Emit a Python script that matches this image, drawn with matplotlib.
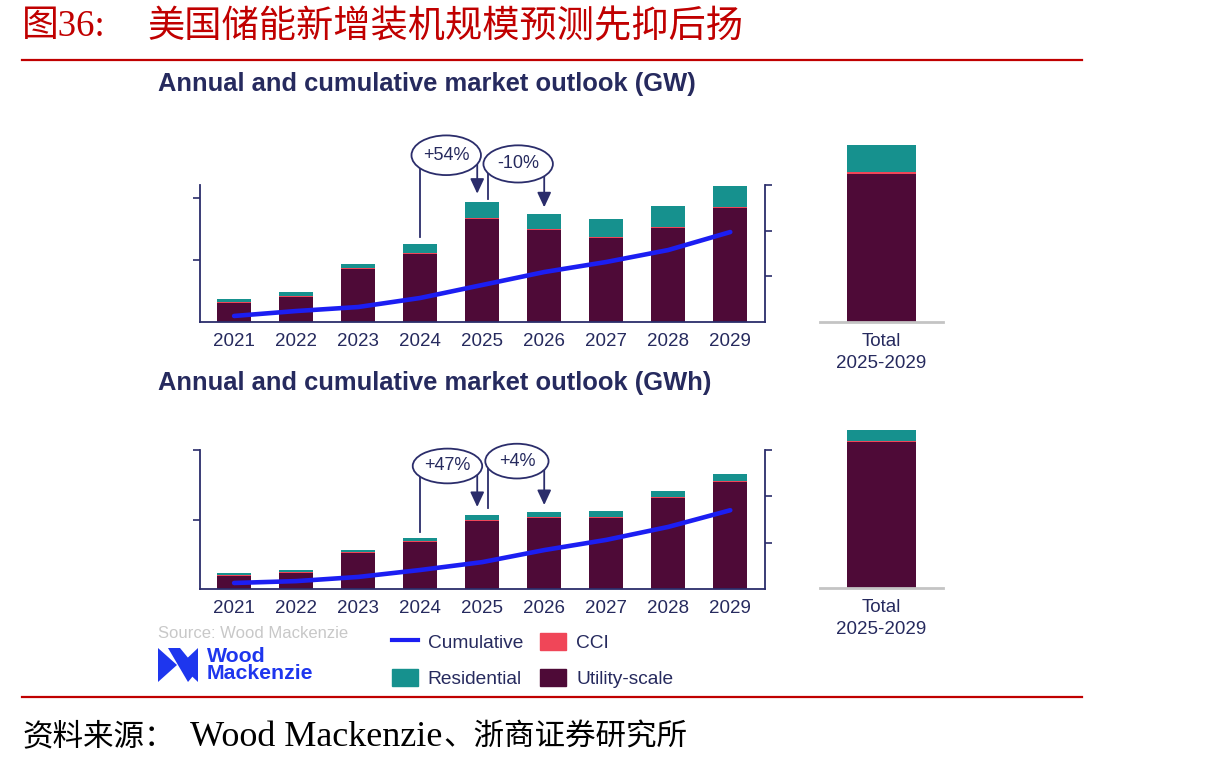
import numpy as np
import matplotlib
matplotlib.use("Agg")
import matplotlib.pyplot as plt
from matplotlib.patches import Ellipse, Patch, Polygon
from matplotlib.lines import Line2D

plt.rcParams['font.family'] = ['Liberation Sans', 'Noto Sans CJK SC']

W, H = 1210, 766

years = ['2021', '2022', '2023', '2024', '2025', '2026', '2027', '2028', '2029']

# GW panel
gw_utility = np.array([3.1, 4.0, 8.5, 11.0, 16.6, 14.8, 13.5, 15.2, 18.4])
gw_cci = np.array([0.2, 0.2, 0.2, 0.2, 0.2, 0.2, 0.2, 0.2, 0.2])
gw_residential = np.array([0.4, 0.6, 0.7, 1.4, 2.6, 2.4, 2.9, 3.3, 3.3])
gw_cumulative = np.array([6.6, 12.0, 16.4, 26.3, 40.5, 54.7, 65.7, 78.8, 98.5])

# GWh panel
gwh_utility = np.array([9.4, 11.5, 25.9, 33.8, 48.9, 51.1, 51.1, 65.5, 77.0])
gwh_cci = np.array([0.4, 0.4, 0.4, 0.4, 0.4, 0.4, 0.4, 0.4, 0.4])
gwh_residential = np.array([1.7, 1.8, 1.8, 2.5, 3.9, 3.9, 4.6, 4.6, 5.3])
gwh_cumulative = np.array([13, 17, 26, 41, 58, 84, 106, 134, 170])

UTIL = '#4E0A37'
RES = '#16918E'
CCI = '#F04658'
BLUE = '#1C1EF2'
NAVY = '#2B2D6B'
TXT = '#262A5E'
RED = '#C00000'


def px_rect(l, t, r, b):
    return [l / W, 1 - b / H, (r - l) / W, (b - t) / H]


def stacked(ax, x, util, cci, res, width):
    ax.bar(x, util, width=width, color=UTIL, linewidth=0)
    ax.bar(x, cci, bottom=util, width=width, color=CCI, linewidth=0)
    ax.bar(x, res, bottom=util + cci, width=width, color=RES, linewidth=0)


def panel(rect, util, cci, res, cum, ymax, ymax2, lticks, rticks):
    ax = fig.add_axes(px_rect(*rect))
    x = np.arange(len(years))
    stacked(ax, x, util, cci, res, 0.55)
    ax.set_xlim(-0.55, 8.56)
    ax.set_ylim(0, ymax)
    ax.set_xticks(x)
    ax.set_xticklabels(years, fontsize=13.5, color=TXT)
    ax.set_yticks(lticks)
    ax.set_yticklabels([])
    ax.tick_params(axis='x', length=0, pad=8)
    ax.tick_params(axis='y', length=5, width=1.2, color=NAVY)
    for s in ['top', 'right']:
        ax.spines[s].set_visible(False)
    for s in ['left', 'bottom']:
        ax.spines[s].set_color(NAVY)
        ax.spines[s].set_linewidth(1.3)
    ax2 = ax.twinx()
    ax2.plot(x, cum, color=BLUE, lw=3.3, solid_capstyle='round')
    ax2.set_ylim(0, ymax2)
    ax2.set_yticks(rticks)
    ax2.set_yticklabels([])
    ax2.tick_params(axis='y', length=5, width=1.2, color=NAVY)
    for s in ['top', 'left', 'bottom']:
        ax2.spines[s].set_visible(False)
    ax2.spines['right'].set_color(NAVY)
    ax2.spines['right'].set_linewidth(1.3)
    return ax


def change_note(ax, tops, line_x, arrow_x, i0, i1, gap0, gap1, label, cx, cy, w, h):
    ax.plot([line_x, line_x], [tops[i0] + gap0, cy], color=NAVY, lw=1.3,
            clip_on=False, zorder=5)
    ax.annotate('', xy=(arrow_x, tops[i1] + gap1), xytext=(arrow_x, cy),
                arrowprops=dict(arrowstyle='-|>,head_width=0.42,head_length=0.9',
                                color=NAVY, lw=1.3, shrinkA=0, shrinkB=0),
                annotation_clip=False, zorder=5)
    ax.add_patch(Ellipse((cx, cy), w, h, facecolor='white', edgecolor=NAVY,
                         lw=1.3, clip_on=False, zorder=6))
    ax.text(cx, cy, label, ha='center', va='center', fontsize=13, color=TXT,
            zorder=7, clip_on=False)


def total_panel(rect, util, cci, res, ymax):
    ax = fig.add_axes(px_rect(*rect))
    sl = slice(4, 9)
    stacked(ax, [0], np.array([util[sl].sum()]), np.array([cci[sl].sum()]),
            np.array([res[sl].sum()]), 1.0)
    ax.set_xlim(-0.9, 0.9)
    ax.set_ylim(0, ymax)
    ax.set_xticks([0])
    ax.set_xticklabels(['Total\n2025-2029'], fontsize=13.5, color=TXT,
                       linespacing=1.4)
    ax.tick_params(axis='x', length=0, pad=8)
    ax.set_yticks([])
    for s in ['top', 'right', 'left']:
        ax.spines[s].set_visible(False)
    ax.spines['bottom'].set_color('#C4C4C4')
    ax.spines['bottom'].set_linewidth(2)
    return ax


fig = plt.figure(figsize=(W / 100, H / 100), dpi=100)

# header
fig.text(22 / W, 1 - 27 / H, '图36:', fontsize=26.5, color=RED, va='center',
         family=['Liberation Serif', 'Noto Sans CJK SC'])
fig.text(147 / W, 1 - 27 / H, '美国储能新增装机规模预测先抑后扬', fontsize=26.8,
         color=RED, va='center', family=['Noto Sans CJK SC'])
fig.add_artist(Line2D([22 / W, 1082 / W], [1 - 60 / H, 1 - 60 / H], color=RED, lw=1.6))
fig.add_artist(Line2D([22 / W, 1082 / W], [1 - 697 / H, 1 - 697 / H], color=RED, lw=1.6))
fig.text(22 / W, 1 - 737 / H, '资料来源：', fontsize=22,
         color='black', va='center', family=['Noto Sans CJK SC'])
fig.text(190 / W, 1 - 737 / H, 'Wood Mackenzie', fontsize=26,
         color='black', va='center', family=['Liberation Serif'])
fig.text(443 / W, 1 - 737 / H, '、浙商证券研究所', fontsize=22,
         color='black', va='center', family=['Noto Sans CJK SC'])

# subtitles
fig.text(158 / W, 1 - 84 / H, 'Annual and cumulative market outlook (GW)',
         fontsize=18.4, fontweight='bold', color=TXT, va='center')
fig.text(158 / W, 1 - 383 / H, 'Annual and cumulative market outlook (GWh)',
         fontsize=18.4, fontweight='bold', color=TXT, va='center')

# GW panel
ax_gw = panel((200, 185, 765, 322), gw_utility, gw_cci, gw_residential, gw_cumulative,
              22.1, 150, [10, 20], [50, 100, 150])
gw_tops = gw_utility + gw_cci + gw_residential
change_note(ax_gw, gw_tops, 3.0, 3.92, 3, 4, 1.1, 1.3, '+54%', 3.42, 26.9, 1.12, 6.4)
change_note(ax_gw, gw_tops, 4.1, 5.0, 4, 5, 0.4, 1.1, '-10%', 4.58, 25.5, 1.12, 6.0)
total_panel((820, 140, 943, 322), gw_utility, gw_cci, gw_residential, 96.7)

# GWh panel
ax_gwh = panel((200, 450, 765, 589), gwh_utility, gwh_cci, gwh_residential, gwh_cumulative,
               100, 300, [50, 100], [100, 200, 300])
gwh_tops = gwh_utility + gwh_cci + gwh_residential
change_note(ax_gwh, gwh_tops, 3.0, 3.92, 3, 4, 4.3, 5.8, '+47%', 3.44, 88.5, 1.12, 25)
change_note(ax_gwh, gwh_tops, 4.1, 5.0, 4, 5, 5.0, 5.0, '+4%', 4.56, 92, 1.02, 25)
total_panel((820, 425, 943, 588), gwh_utility, gwh_cci, gwh_residential, 328)

# legend
handles = [Line2D([], [], color=BLUE, lw=3),
           Patch(color=RES), Patch(color=CCI), Patch(color=UTIL)]
labels = ['Cumulative', 'Residential', 'CCI', 'Utility-scale']
fig.legend(handles, labels, loc='upper left', bbox_to_anchor=(392 / W, 1 - 633 / H),
           ncol=2, frameon=False, fontsize=13.8, labelcolor=TXT, handlelength=1.35,
           handleheight=0.95, handletextpad=0.52, columnspacing=0.9, labelspacing=0.92,
           borderpad=0, borderaxespad=0)

# source and logo
fig.text(158 / W, 1 - 633 / H, 'Source: Wood Mackenzie', fontsize=12, color='#C8C8C8',
         va='center')
LOGO = '#1E36EE'
logo_shapes = [
    [(158, 648), (158, 682), (177, 665)],
    [(198, 648), (198, 682), (180, 665)],
    [(168, 648), (180, 648), (198, 670), (188, 682)],
]
for pts in logo_shapes:
    fig.add_artist(Polygon([(px / W, 1 - py / H) for px, py in pts], closed=True,
                           facecolor=LOGO, edgecolor='none'))
fig.text(207 / W, 1 - 665 / H, 'Wood\nMackenzie', fontsize=15.3, fontweight='bold',
         color=LOGO, va='center', linespacing=0.9)

fig.savefig('out.png', dpi=100)
